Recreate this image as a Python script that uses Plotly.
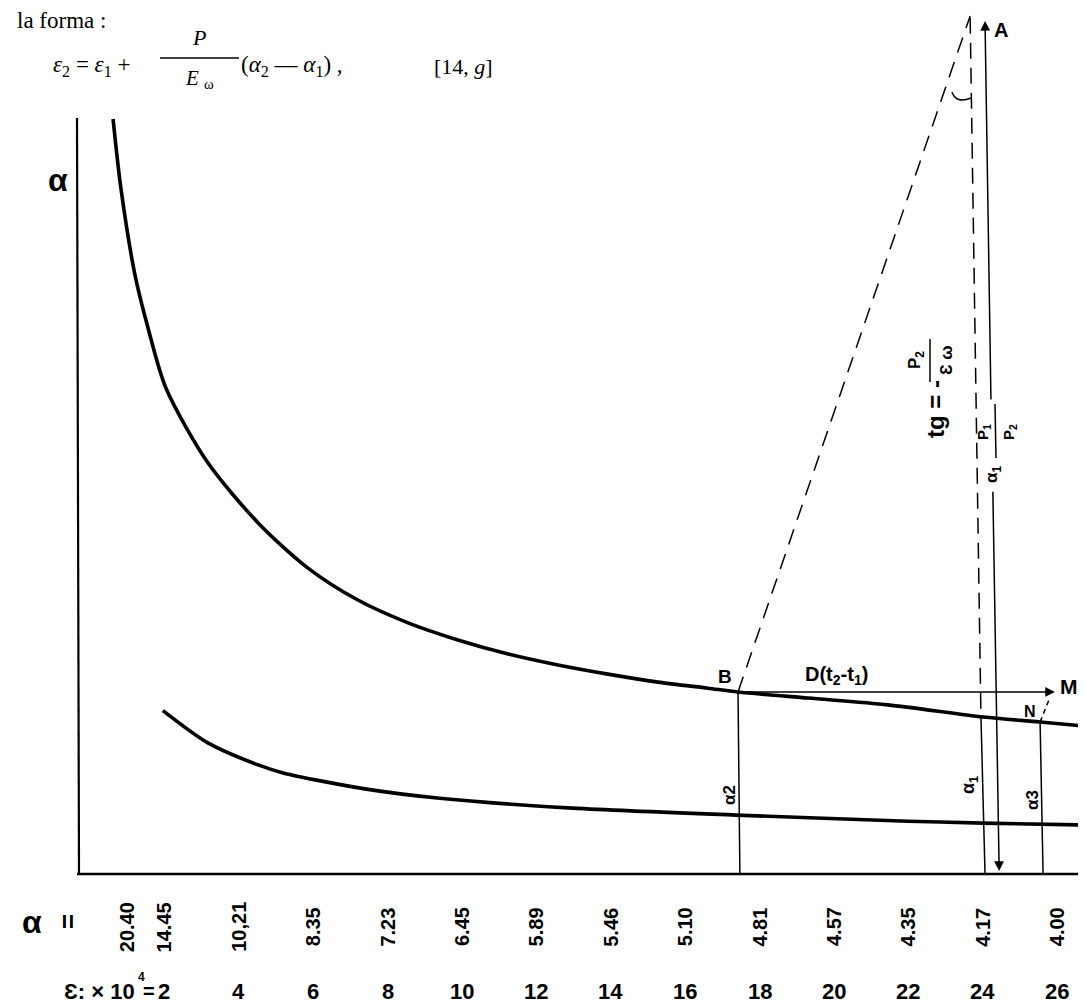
import plotly.graph_objects as go

# ---------------- data ----------------
# strain axis (epsilon x 10^4) tick values
eps_ticks = [2, 4, 6, 8, 10, 12, 14, 16, 18, 20, 22, 24, 26]
# alpha values written under the axis and the epsilon at which they are written
alpha_label_eps = [1, 2, 4, 6, 8, 10, 12, 14, 16, 18, 20, 22, 24, 26]
alpha_labels = ["20.40", "14.45", "10,21", "8.35", "7.23", "6.45", "5.89",
                "5.46", "5.10", "4.81", "4.57", "4.35", "4.17", "4.00"]

# upper curve  alpha(epsilon)
upper_eps = [0.62, 0.83, 1.21, 1.56, 2.04, 3.17, 4.52, 5.86, 7.20, 8.55, 9.89,
             11.24, 12.58, 13.92, 15.27, 16.61, 17.42, 19.30, 21.45, 24.01, 25.54, 27.2]
upper_alpha = [19.87, 18.05, 15.76, 14.37, 12.79, 10.82, 9.24, 8.05, 7.21, 6.61, 6.16,
               5.79, 5.50, 5.26, 5.05, 4.89, 4.79, 4.63, 4.45, 4.13, 4.00, 3.85]

# lower curve
lower_eps = [1.96, 3.17, 4.52, 5.19, 7.39, 9.33, 12.85, 17.37, 21.99, 24.01, 27.2]
lower_alpha = [4.30, 3.45, 2.87, 2.66, 2.24, 2.00, 1.74, 1.55, 1.39, 1.34, 1.28]

# construction points (epsilon, alpha)
B = (17.42, 4.79)
M = (25.94, 4.79)
N = (25.54, 4.00)
TOP_DIAG = (23.66, 22.58)          # top of the dashed line from B
DASH_V_TOP = (23.66, 22.53)        # dashed vertical, top
DASH_V_BOT = (23.95, 4.16)         # dashed vertical meets the curve (alpha1)
ALPHA1_FOOT = (24.06, 0.0)
A_HEAD = (24.06, 22.45)
A_TAIL = (24.22, 12.45)
DOWN_TAIL = (24.27, 10.10)
DOWN_HEAD = (24.44, 0.08)
ALPHA2_FOOT = (17.47, 0.0)
ALPHA3_FOOT = (25.62, 0.0)
N_DASH_END = (25.81, 4.66)

# ---------------- figure geometry ----------------
W, H = 1086, 1005
X0_PX, X_PER_UNIT = 82.0, 37.2
Y0_PX, Y_PER_UNIT = 866.0, 38.0
x_range = [(0 - X0_PX) / X_PER_UNIT, (W - X0_PX) / X_PER_UNIT]
y_range = [(Y0_PX - H) / Y_PER_UNIT, Y0_PX / Y_PER_UNIT]


def ex(px):
    return (px - X0_PX) / X_PER_UNIT


def ay(py):
    return (Y0_PX - py) / Y_PER_UNIT


def px_(x):
    return x / W


def py_(y):
    return 1 - y / H


HAND = "Liberation Sans"
SERIF = "Liberation Serif"

fig = go.Figure()

fig.add_trace(go.Scatter(x=upper_eps, y=upper_alpha, mode="lines",
                         line=dict(color="black", width=3.6, shape="spline", smoothing=0.8),
                         hoverinfo="skip", showlegend=False))
fig.add_trace(go.Scatter(x=lower_eps, y=lower_alpha, mode="lines",
                         line=dict(color="black", width=3.6, shape="spline", smoothing=0.8),
                         hoverinfo="skip", showlegend=False))

shapes = []


def seg(p, q, width=1.6, dash=None):
    d = dict(type="line", xref="x", yref="y", x0=p[0], y0=p[1], x1=q[0], y1=q[1],
             line=dict(color="black", width=width))
    if dash:
        d["line"]["dash"] = dash
    shapes.append(d)


# axes
seg((ex(69), ay(110)), (ex(71), ay(867)), width=2.2)
seg((ex(69), 0), (ex(W + 5), 0), width=2.6)

# construction lines
seg(B, TOP_DIAG, width=1.5, dash="16px,10px")
seg(DASH_V_TOP, DASH_V_BOT, width=1.5, dash="16px,9px")
seg(DASH_V_BOT, ALPHA1_FOOT, width=1.5)
seg(B, ALPHA2_FOOT, width=1.5)
seg(N, ALPHA3_FOOT, width=1.5)
seg(N, N_DASH_END, width=1.5, dash="5px,4px")
# fraction bar of alpha1 P1/P2 (continuation of line A)
seg((ex(987), ay(396)), (ex(988), ay(450)), width=1.5)
# fraction bar of tg label
seg((ex(922), ay(331)), (ex(922), ay(374)), width=1.5)
# angle mark between the dashed lines
shapes.append(dict(type="path", xref="x", yref="y",
                   path=f"M {ex(944)},{ay(84)} Q {ex(948)},{ay(96)} {ex(963)},{ay(90)}",
                   line=dict(color="black", width=1.5)))
# fraction bar in the formula
shapes.append(dict(type="line", xref="paper", yref="paper",
                   x0=px_(152), x1=px_(231), y0=py_(50), y1=py_(50),
                   line=dict(color="black", width=1.3)))

annotations = []


def arrow(head, tail):
    annotations.append(dict(x=head[0], y=head[1], ax=tail[0], ay=tail[1],
                            xref="x", yref="y", axref="x", ayref="y", text="",
                            showarrow=True, arrowhead=2, arrowsize=1.3,
                            arrowwidth=1.5, arrowcolor="black"))


arrow(M, B)
arrow(A_HEAD, A_TAIL)
arrow(DOWN_HEAD, DOWN_TAIL)


def txt(x, y, text, size=20, angle=0, font=HAND, xanchor="center", ref="data"):
    d = dict(x=x, y=y, text=text, showarrow=False, textangle=angle,
             font=dict(family=font, size=size, color="black"),
             xanchor=xanchor, yanchor="middle", borderpad=0)
    if ref == "data":
        d.update(xref="x", yref="y")
    else:
        d.update(xref="paper", yref="paper")
    annotations.append(d)


# tick labels
for e, lab in zip(alpha_label_eps, alpha_labels):
    txt(e, ay(919), f"<b>{lab}</b>", size=20, angle=-90)
for e in eps_ticks:
    txt(e, ay(983), f"<b>{e}</b>", size=22)
txt(ex(128), ay(983), "<b>Ɛ: × 10</b>", size=22, xanchor="right")
txt(ex(133), ay(969), "<b>4</b>", size=12)
txt(ex(141), ay(983), "<b>=</b>", size=20)
txt(ex(24), ay(914), "<b>α</b>", size=32)
txt(ex(60), ay(914), "<b>=</b>", size=26, angle=-90)

# axis label
txt(ex(50), ay(172), "<b>α</b>", size=32)

# point labels
txt(ex(993), ay(22), "<b>A</b>", size=20)
txt(ex(717), ay(668), "<b>B</b>", size=19)
txt(ex(828), ay(667), "<b>D(t<sub>2</sub>-t<sub>1</sub>)</b>", size=20)
txt(ex(1061), ay(678), "<b>M</b>", size=21)
txt(ex(1022), ay(703), "<b>N</b>", size=16)
txt(ex(721), ay(787), "<b>α2</b>", size=17, angle=-90)
txt(ex(961), ay(777), "<b>α<sub>1</sub></b>", size=18, angle=-90)
txt(ex(1024), ay(792), "<b>α3</b>", size=17, angle=-90)

# tg label
txt(ex(927), ay(401), "<b>tg = -</b>", size=24, angle=-90)
txt(ex(908), ay(352), "<b>P<sub>2</sub></b>", size=17, angle=-90)
txt(ex(938), ay(352), "<b>Ɛ ω</b>", size=17, angle=-90)

# alpha1 P1/P2 label
txt(ex(975), ay(424), "<b>P<sub>1</sub></b>", size=15, angle=-90)
txt(ex(1001), ay(424), "<b>P<sub>2</sub></b>", size=15, angle=-90)
txt(ex(985), ay(467), "<b>α<sub>1</sub></b>", size=17, angle=-90)

# header text
txt(px_(8), py_(13), "la forma :", size=23, font=SERIF, xanchor="left", ref="paper")
txt(px_(44), py_(58), "<i>ε</i><sub>2</sub> = <i>ε</i><sub>1</sub> +", size=23,
    font=SERIF, xanchor="left", ref="paper")
txt(px_(191), py_(29), "<i>P</i>", size=22, font=SERIF, ref="paper")
txt(px_(191), py_(71), "<i>E</i> <sub>ω</sub>", size=21, font=SERIF, ref="paper")
txt(px_(232), py_(58), "(<i>α</i><sub>2</sub> — <i>α</i><sub>1</sub>) ,", size=23,
    font=SERIF, xanchor="left", ref="paper")
txt(px_(425), py_(58), "[14, <i>g</i>]", size=22, font=SERIF, xanchor="left", ref="paper")

fig.update_layout(
    width=W, height=H,
    margin=dict(l=0, r=0, t=0, b=0),
    paper_bgcolor="white", plot_bgcolor="white",
    xaxis=dict(range=x_range, visible=False, fixedrange=True),
    yaxis=dict(range=y_range, visible=False, fixedrange=True),
    shapes=shapes, annotations=annotations, showlegend=False,
)

fig.write_html("out.html")
